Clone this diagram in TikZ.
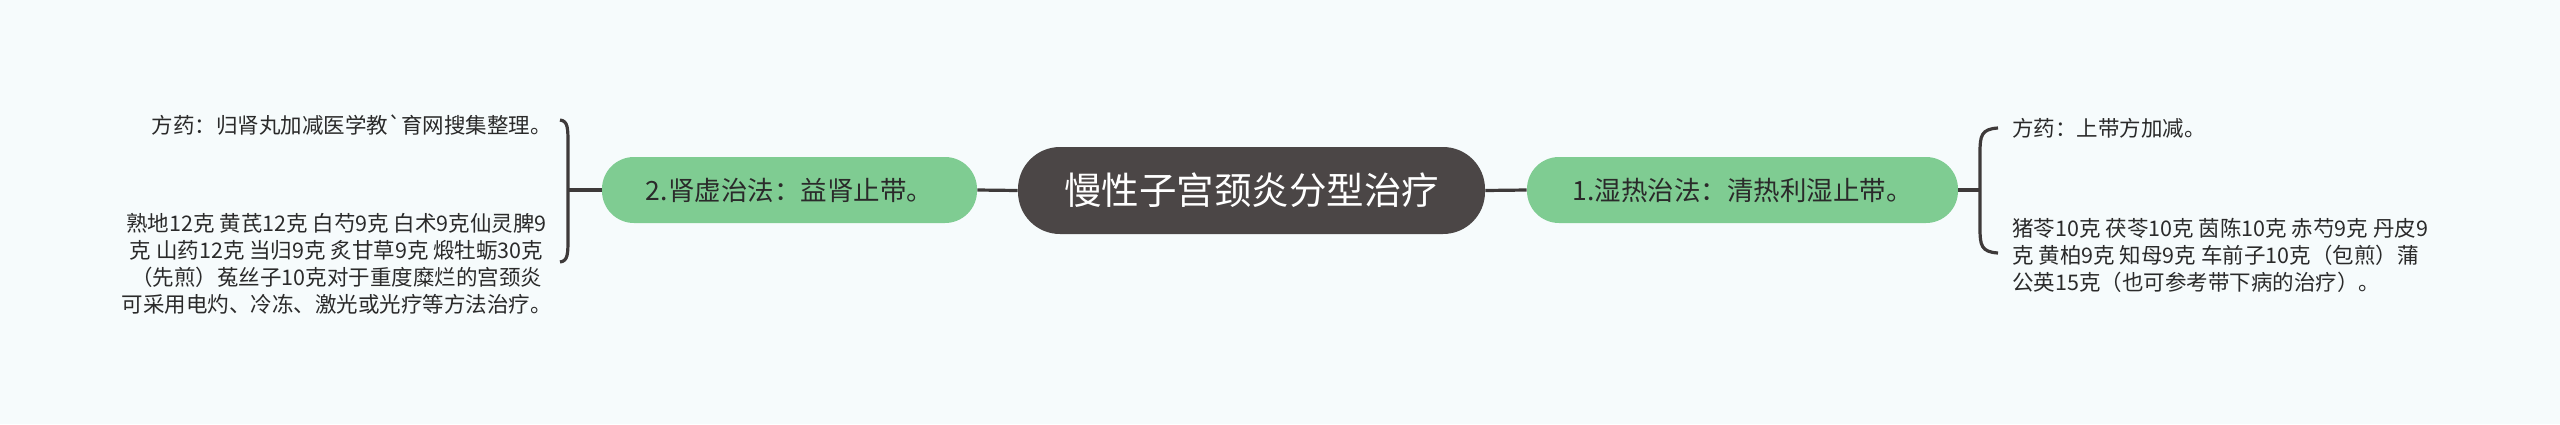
\documentclass[tikz,border=0pt]{standalone}
\usepackage{fontspec}
\setmainfont{Noto Sans CJK SC}
\definecolor{bg}{HTML}{F6FBFC}
\definecolor{topicdark}{HTML}{4B4646}
\definecolor{branchgreen}{HTML}{7FCC92}
\definecolor{linegray}{HTML}{3E3A3A}
\definecolor{leaftext}{HTML}{2A2A2A}
\begin{document}
\begin{tikzpicture}[x=0.5pt, y=-0.5pt,
    topic/.style={fill=topicdark, text=white, rounded corners=21pt, minimum height=43.5pt, inner sep=0pt, font=\fontsize{18.75pt}{22pt}\selectfont},
    branch/.style={fill=branchgreen, text=leaftext, rounded corners=16pt, minimum height=33pt, inner sep=0pt, font=\fontsize{13.25pt}{16pt}\selectfont},
    leaf/.style={text=leaftext, inner sep=0pt, font=\fontsize{10.75pt}{13.5pt}\selectfont},
    link/.style={draw=linegray, line width=1.6pt}]
    %\draw[lightgray] (0, 0) grid[step=100] (2560, 424);
    \fill[bg] (0, 0) rectangle (2560, 424);
    \node[topic, minimum width=233.5pt] (title) at (1251.5, 190.5) {慢性子宫颈炎分型治疗};
    \node[branch, minimum width=187.5pt] (kidney) at (789.5, 190) {2.肾虚治法：益肾止带。};
    \node[branch, minimum width=215.5pt] (damp) at (1742.5, 190) {1.湿热治法：清热利湿止带。};
    \draw[link] (kidney.east) -- (title.west);
    \draw[link] (title.east) -- (damp.west);
    % left side
    \node[leaf, anchor=east] (kidneyrx) at (552, 125) {方药：归肾丸加减医学教\textasciigrave 育网搜集整理。};
    \node[leaf, anchor=east, align=center] (kidneyherbs) at (552, 263.5) {熟地12克 黄芪12克 白芍9克 白术9克仙灵脾9\\克 山药12克 当归9克 炙甘草9克 煅牡蛎30克\\（先煎）菟丝子10克对于重度糜烂的宫颈炎\\可采用电灼、冷冻、激光或光疗等方法治疗。};
    \coordinate (kidneyfork) at (568, 190);
    \coordinate (kidneytop) at (560, 120);
    \coordinate (kidneybot) at (560, 262);
    \draw[link] (kidney.west) -- (kidneyfork);
    \draw[link] (kidneytop) .. controls (568, 121) and (568, 128) .. (568, 145) -- (568, 237) .. controls (568, 254) and (568, 261) .. (kidneybot);
    % right side
    \node[leaf, anchor=west] (damprx) at (2012, 128) {方药：上带方加减。};
    \node[leaf, anchor=west, align=left] (dampherbs) at (2012, 255) {猪苓10克 茯苓10克 茵陈10克 赤芍9克 丹皮9\\克 黄柏9克 知母9克 车前子10克（包煎）蒲\\公英15克（也可参考带下病的治疗）。};
    \coordinate (dampfork) at (1980, 190);
    \coordinate (damptop) at (1998, 128);
    \coordinate (dampbot) at (1998, 253);
    \draw[link] (damp.east) -- (dampfork);
    \draw[link] (damptop) .. controls (1981, 129) and (1980, 136) .. (1980, 153) -- (1980, 228) .. controls (1980, 245) and (1981, 252) .. (dampbot);
\end{tikzpicture}
\end{document}
